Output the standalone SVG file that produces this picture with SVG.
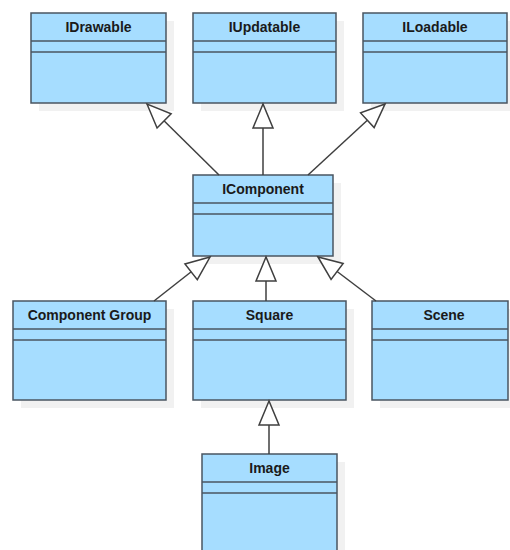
<svg xmlns="http://www.w3.org/2000/svg" width="510" height="550" viewBox="0 0 510 550">
<style>
.shadow{fill:#f1f1f1;stroke:none}
.box{fill:#a6ddff;stroke:#4a5561;stroke-width:1.5}
.sep{stroke:#4a5561;stroke-width:1.5}
.lbl{font-family:"Liberation Sans",Arial,sans-serif;font-weight:bold;font-size:14px;fill:#1a1a1a;text-anchor:middle}
.conn{stroke:#3f3f3f;stroke-width:1.5;fill:none;marker-end:url(#tri)}
</style>
<defs>
<marker id="tri" markerUnits="userSpaceOnUse" markerWidth="30" markerHeight="30" refX="0" refY="0" orient="auto" overflow="visible">
<path d="M0,0 L-24,-10 L-24,10 Z" fill="#fff" stroke="#3f3f3f" stroke-width="1.5" stroke-linejoin="miter"/>
</marker>
</defs>
<rect width="510" height="550" fill="#fff"/>
<g id="IDrawable">
<rect class="shadow" x="39" y="21" width="135" height="90"/>
<rect class="box" x="31" y="13" width="135" height="90"/>
<line class="sep" x1="31" y1="41" x2="166" y2="41"/>
<line class="sep" x1="31" y1="52" x2="166" y2="52"/>
<text class="lbl" x="98.5" y="32">IDrawable</text>
</g>
<g id="IUpdatable">
<rect class="shadow" x="201" y="21" width="143" height="90"/>
<rect class="box" x="193" y="13" width="143" height="90"/>
<line class="sep" x1="193" y1="41" x2="336" y2="41"/>
<line class="sep" x1="193" y1="52" x2="336" y2="52"/>
<text class="lbl" x="264.5" y="32">IUpdatable</text>
</g>
<g id="ILoadable">
<rect class="shadow" x="371" y="21" width="144" height="90"/>
<rect class="box" x="363" y="13" width="144" height="90"/>
<line class="sep" x1="363" y1="41" x2="507" y2="41"/>
<line class="sep" x1="363" y1="52" x2="507" y2="52"/>
<text class="lbl" x="435" y="32">ILoadable</text>
</g>
<g id="IComponent">
<rect class="shadow" x="201" y="183" width="140" height="81"/>
<rect class="box" x="193" y="175" width="140" height="81"/>
<line class="sep" x1="193" y1="203" x2="333" y2="203"/>
<line class="sep" x1="193" y1="214" x2="333" y2="214"/>
<text class="lbl" x="263" y="194">IComponent</text>
</g>
<g id="ComponentGroup">
<rect class="shadow" x="21" y="309" width="153" height="99"/>
<rect class="box" x="13" y="301" width="153" height="99"/>
<line class="sep" x1="13" y1="329" x2="166" y2="329"/>
<line class="sep" x1="13" y1="340" x2="166" y2="340"/>
<text class="lbl" x="89.5" y="320">Component Group</text>
</g>
<g id="Square">
<rect class="shadow" x="201" y="309" width="153" height="99"/>
<rect class="box" x="193" y="301" width="153" height="99"/>
<line class="sep" x1="193" y1="329" x2="346" y2="329"/>
<line class="sep" x1="193" y1="340" x2="346" y2="340"/>
<text class="lbl" x="269.5" y="320">Square</text>
</g>
<g id="Scene">
<rect class="shadow" x="380" y="309" width="136" height="99"/>
<rect class="box" x="372" y="301" width="136" height="99"/>
<line class="sep" x1="372" y1="329" x2="508" y2="329"/>
<line class="sep" x1="372" y1="340" x2="508" y2="340"/>
<text class="lbl" x="444" y="320">Scene</text>
</g>
<g id="Image">
<rect class="shadow" x="210" y="462" width="135" height="100"/>
<rect class="box" x="202" y="454" width="135" height="100"/>
<line class="sep" x1="202" y1="482" x2="337" y2="482"/>
<line class="sep" x1="202" y1="493" x2="337" y2="493"/>
<text class="lbl" x="269.5" y="473">Image</text>
</g>
<g id="connectors">
<line class="conn" x1="219" y1="175" x2="147" y2="104"/>
<line class="conn" x1="263" y1="175" x2="263" y2="104"/>
<line class="conn" x1="308" y1="175" x2="385" y2="104"/>
<line class="conn" x1="154" y1="301" x2="210" y2="257"/>
<line class="conn" x1="266" y1="301" x2="266" y2="257"/>
<line class="conn" x1="376" y1="301" x2="318" y2="257"/>
<line class="conn" x1="269" y1="454" x2="269" y2="401"/>
</g>
</svg>
